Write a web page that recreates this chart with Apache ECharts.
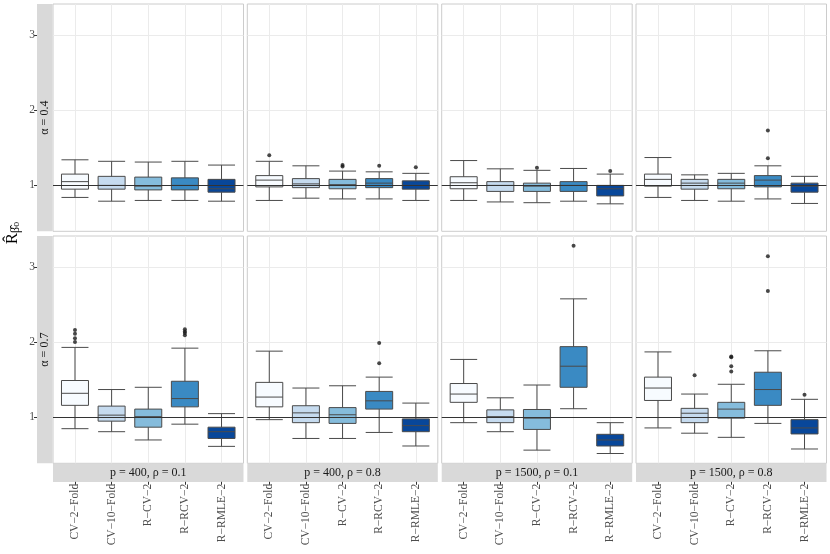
<!DOCTYPE html>
<html><head><meta charset="utf-8">
<script src="https://cdn.jsdelivr.net/npm/echarts@6/dist/echarts.min.js"></script>
<style>html,body{margin:0;padding:0;background:#fff}#c{width:830px;height:554px}</style>
</head><body><div id="c"></div><script>
const categories = ['CV−2−Fold','CV−10−Fold','R−CV−2','R−RCV−2','R−RMLE−2'];
const rowLabels = ['α = 0.4','α = 0.7'];
const colLabels = ['p = 400, ρ = 0.1','p = 400, ρ = 0.8','p = 1500, ρ = 0.1','p = 1500, ρ = 0.8'];
const yTicks = [1, 2, 3];
const xTicks = [0, 1, 2, 3, 4];
const fills = ['#F7FBFF','#C6DBEF','#85BCDC','#3A8AC3','#08479A'];

// box stats: [lower whisker, Q1, median, Q3, upper whisker], one row per category
// alpha = 0.4
const box_a04_p400_r01 = [[0.84,0.95,1.05,1.15,1.34],[0.79,0.95,1.00,1.12,1.32],[0.80,0.94,0.99,1.11,1.31],[0.80,0.94,1.00,1.10,1.32],[0.79,0.91,0.955,1.08,1.27]];
const out_a04_p400_r01 = [];
const box_a04_p400_r08 = [[0.80,0.98,1.07,1.13,1.32],[0.83,0.97,1.02,1.09,1.26],[0.82,0.955,1.01,1.08,1.19],[0.82,0.97,1.03,1.09,1.18],[0.80,0.95,1.00,1.06,1.16]];
const out_a04_p400_r08 = [[0,1.40],[2,1.25],[2,1.27],[3,1.26],[4,1.24]];
const box_a04_p1500_r01 = [[0.80,0.955,1.035,1.115,1.33],[0.78,0.92,1.00,1.05,1.22],[0.77,0.92,0.99,1.03,1.20],[0.79,0.92,1.00,1.05,1.225],[0.755,0.86,0.955,1.00,1.15]];
const out_a04_p1500_r01 = [[2,1.235],[4,1.19]];
const box_a04_p1500_r08 = [[0.84,0.99,1.08,1.15,1.37],[0.80,0.95,1.03,1.08,1.14],[0.79,0.955,1.03,1.08,1.16],[0.82,0.98,1.07,1.13,1.26],[0.76,0.91,0.99,1.03,1.12]];
const out_a04_p1500_r08 = [[3,1.36],[3,1.73]];
// alpha = 0.7
const box_a07_p400_r01 = [[0.85,1.16,1.32,1.49,1.93],[0.81,0.95,1.03,1.15,1.37],[0.70,0.87,1.01,1.11,1.40],[0.91,1.14,1.25,1.48,1.92],[0.615,0.72,0.81,0.87,1.05]];
const out_a07_p400_r01 = [[0,2.00],[0,2.05],[0,2.11],[0,2.16],[3,2.09],[3,2.12],[3,2.14],[3,2.17]];
const box_a07_p400_r08 = [[0.97,1.14,1.27,1.465,1.88],[0.72,0.93,1.06,1.155,1.39],[0.72,0.92,1.035,1.13,1.42],[0.80,1.11,1.22,1.345,1.535],[0.62,0.81,0.89,0.98,1.19]];
const out_a07_p400_r08 = [[3,1.72],[3,1.99]];
const box_a07_p1500_r01 = [[0.93,1.20,1.31,1.45,1.77],[0.81,0.93,1.01,1.10,1.26],[0.565,0.84,0.99,1.105,1.43],[1.115,1.40,1.68,1.94,2.575],[0.52,0.62,0.70,0.775,0.93]];
const out_a07_p1500_r01 = [[3,3.28]];
const box_a07_p1500_r08 = [[0.86,1.225,1.39,1.535,1.87],[0.79,0.93,1.055,1.12,1.31],[0.735,0.99,1.11,1.20,1.44],[0.92,1.16,1.37,1.60,1.885],[0.58,0.78,0.86,0.97,1.24]];
const out_a07_p1500_r08 = [[1,1.56],[2,1.61],[2,1.68],[2,1.80],[2,1.81],[3,2.68],[3,3.14],[4,1.30]];

const panelBoxes = [box_a04_p400_r01, box_a04_p400_r08, box_a04_p1500_r01, box_a04_p1500_r08,
                    box_a07_p400_r01, box_a07_p400_r08, box_a07_p1500_r01, box_a07_p1500_r08];
const panelOuts = [out_a04_p400_r01, out_a04_p400_r08, out_a04_p1500_r01, out_a04_p1500_r08,
                   out_a07_p400_r01, out_a07_p400_r08, out_a07_p1500_r01, out_a07_p1500_r08];

const FONT = 'Liberation Serif';
const lefts = [53, 247.3, 441.7, 636];
const tops = [4, 236];
const W = 190.5, H = 227.3;

const grids = [], xAxes = [], yAxes = [], series = [], graphics = [];
for (let r = 0; r < 2; r++) {
  for (let c = 0; c < 4; c++) {
    const idx = r * 4 + c;
    grids.push({left: lefts[c], top: tops[r], width: W, height: H, show: true,
      backgroundColor: '#ffffff', borderColor: '#cccccc', borderWidth: 1, containLabel: false});
    xAxes.push({type: 'value', gridIndex: idx, min: -0.6, max: 4.6, position: 'bottom',
      offset: r === 1 ? 18.5 : 0,
      axisLine: {show: false, onZero: false},
      axisTick: {show: r === 1, customValues: xTicks, length: 3, lineStyle: {color: '#333333'}},
      axisLabel: {show: r === 1, customValues: xTicks, rotate: 90, margin: 2,
        formatter: v => categories[Math.round(v)], fontFamily: FONT, fontSize: 11.5, color: '#4d4d4d'},
      splitLine: {show: true, lineStyle: {color: '#ebebeb', width: 1}}});
    yAxes.push({type: 'value', gridIndex: idx, min: 0.39, max: 3.41, position: 'left',
      offset: c === 0 ? 16 : 0,
      axisLine: {show: false, onZero: false},
      axisTick: {show: c === 0, customValues: yTicks, length: 3, lineStyle: {color: '#333333'}},
      axisLabel: {show: c === 0, customValues: yTicks, margin: 2, fontFamily: FONT, fontSize: 11.5, color: '#4d4d4d'},
      splitLine: {show: true, lineStyle: {color: '#ebebeb', width: 1.2}}});
    series.push({type: 'boxplot', xAxisIndex: idx, yAxisIndex: idx, silent: true,
      boxWidth: [27, 27],
      itemStyle: {borderColor: '#4a4a4a', borderWidth: 1},
      data: panelBoxes[idx].map((b, i) => ({value: [i].concat(b), itemStyle: {color: fills[i]}})),
      markLine: {silent: true, symbol: ['none', 'none'], label: {show: false},
        lineStyle: {color: '#333333', width: 1, type: 'solid'}, data: [{yAxis: 1}]}});
    series.push({type: 'scatter', xAxisIndex: idx, yAxisIndex: idx, silent: true, z: 4,
      symbolSize: 4, itemStyle: {color: '#1a1a1a'}, data: panelOuts[idx]});
  }
}
// strips
for (let r = 0; r < 2; r++) {
  graphics.push({type: 'rect', shape: {x: 37, y: tops[r], width: 15.5, height: H}, style: {fill: '#d9d9d9'}});
  graphics.push({type: 'text', x: 45, y: tops[r] + H / 2, rotation: Math.PI / 2,
    style: {text: rowLabels[r], fontFamily: FONT, fontSize: 12, fill: '#1a1a1a', align: 'center', verticalAlign: 'middle'}});
}
for (let c = 0; c < 4; c++) {
  graphics.push({type: 'rect', shape: {x: lefts[c], y: 464, width: W, height: 18}, style: {fill: '#d9d9d9'}});
  graphics.push({type: 'text', x: lefts[c] + W / 2, y: 473,
    style: {text: colLabels[c], fontFamily: FONT, fontSize: 12, fill: '#1a1a1a', align: 'center', verticalAlign: 'middle'}});
}
graphics.push({type: 'text', x: 13, y: 233, rotation: Math.PI / 2,
  style: {text: '{r|R̂}{s|β̂}{t|o}', align: 'center', verticalAlign: 'middle', fill: '#000',
    rich: {r: {fontFamily: FONT, fontSize: 17, fill: '#000'},
           s: {fontFamily: FONT, fontSize: 12, fill: '#000', verticalAlign: 'bottom'},
           t: {fontFamily: FONT, fontSize: 10, fill: '#000', verticalAlign: 'bottom'}}}});

const chart = echarts.init(document.getElementById('c'));
chart.setOption({animation: false, backgroundColor: '#ffffff',
  grid: grids, xAxis: xAxes, yAxis: yAxes, series: series, graphic: graphics});
</script></body></html>
